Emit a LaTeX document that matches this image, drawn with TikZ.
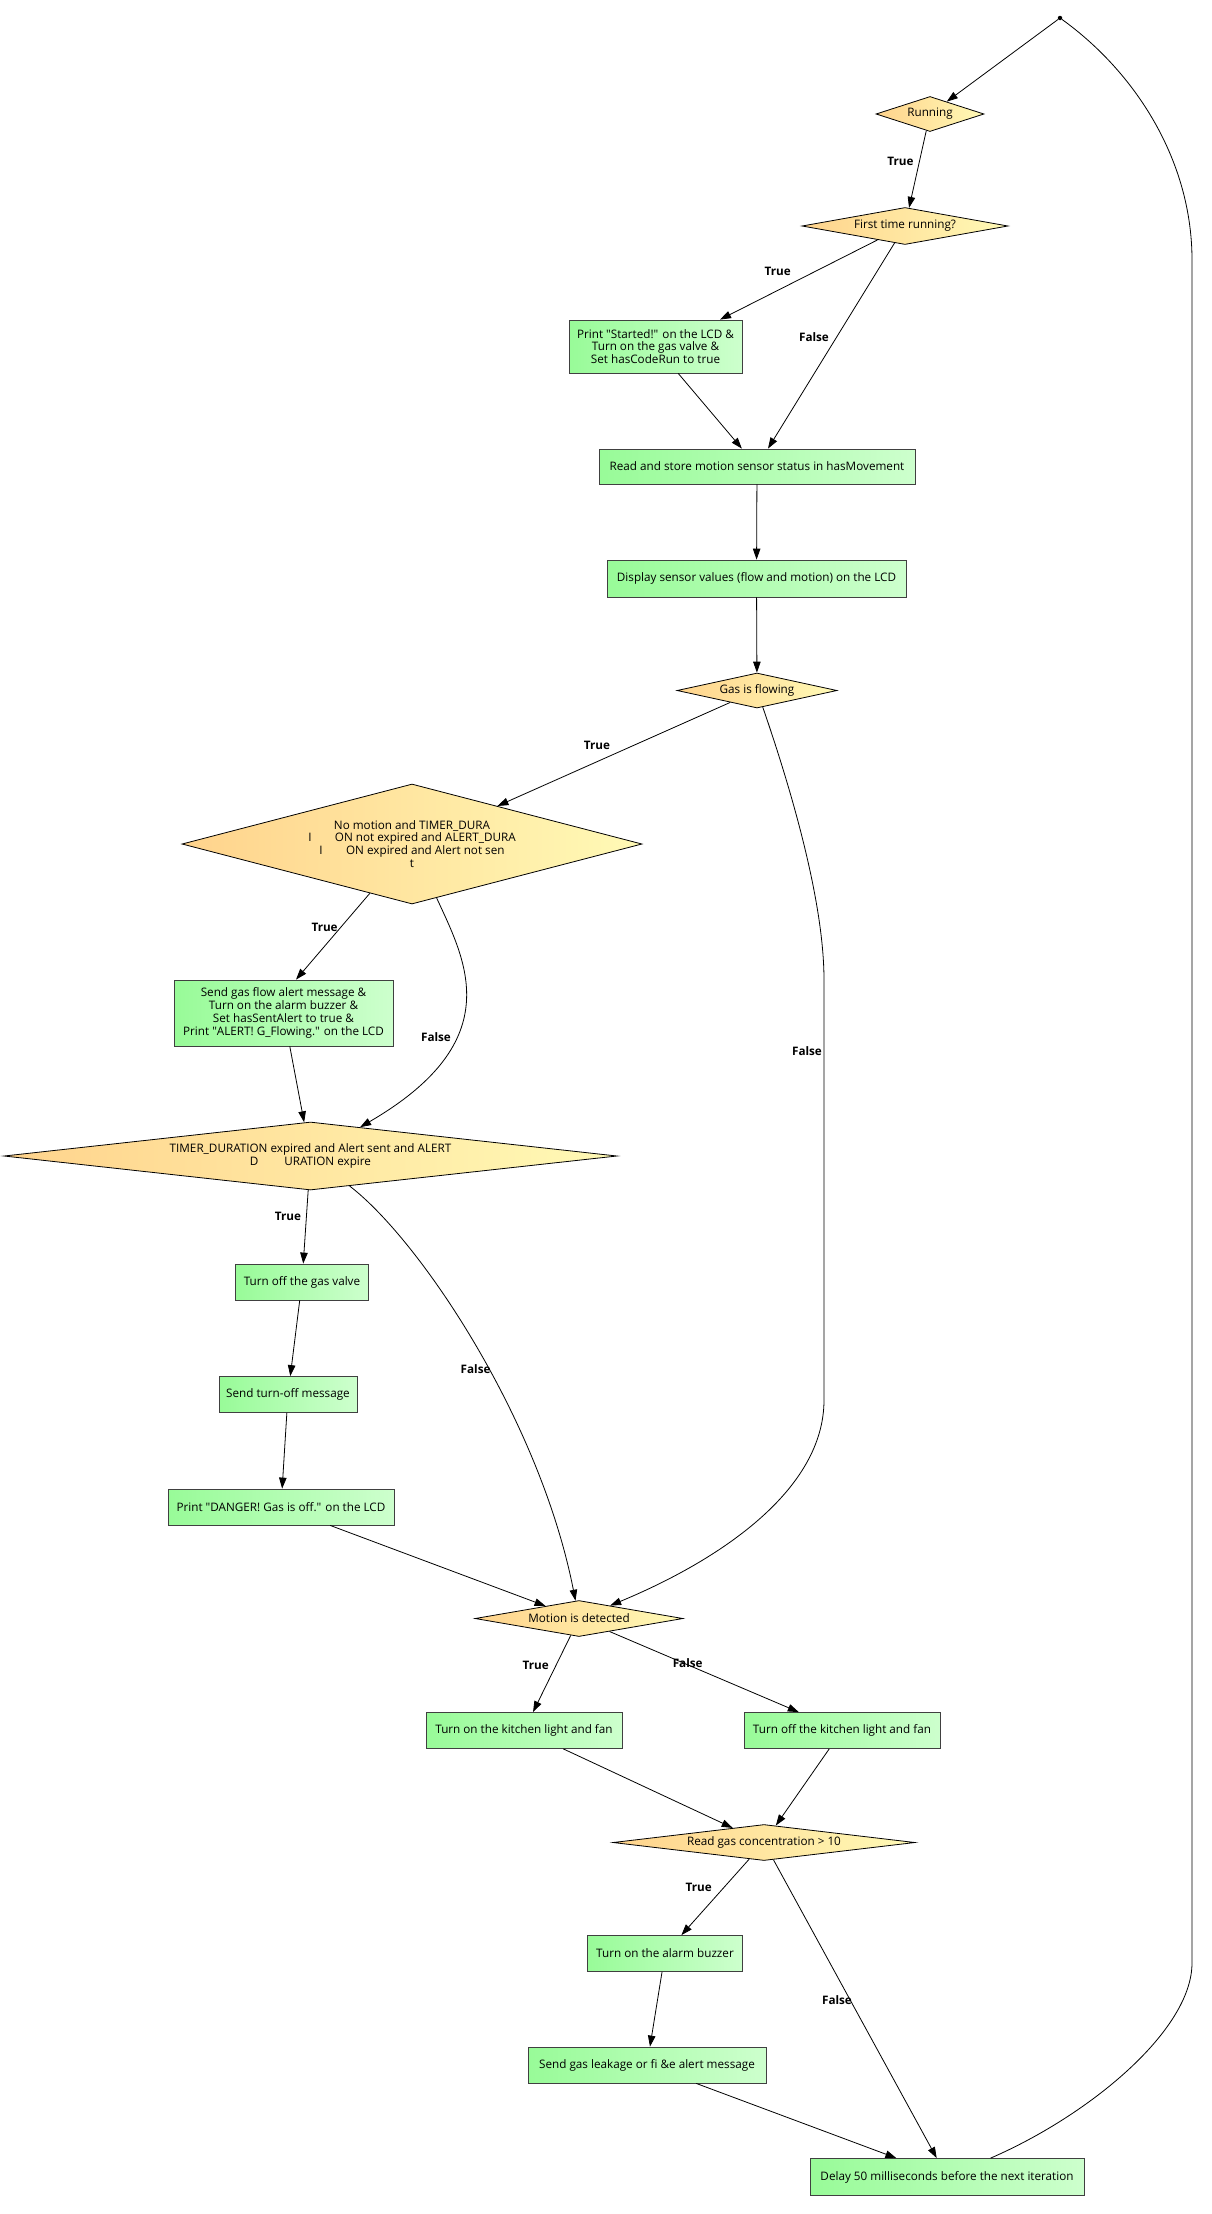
\documentclass[tikz,border=0pt]{standalone}
\usepackage{fontspec}
\setmainfont{Open Sans}
\usetikzlibrary{shapes.geometric,arrows.meta,calc}
\definecolor{gL}{RGB}{152,251,152}
\definecolor{gR}{RGB}{205,255,205}
\definecolor{yL}{RGB}{255,211,140}
\definecolor{yR}{RGB}{255,250,182}
\newcommand\myfs{\fontsize{11.7}{12.8}\selectfont}
\newcommand\qq{\textquotedbl{}}
\begin{document}
\begin{tikzpicture}[x=1pt,y=-1pt,
  box/.style={rectangle,draw=black!75,line width=0.8pt,left color=gL,right color=gR,inner sep=0pt,align=center,font=\myfs},
  dec/.style={diamond,draw=black,line width=0.8pt,left color=yL,right color=yR,inner sep=0pt,align=center,font=\myfs},
  arr/.style={-{Triangle[length=11pt,width=7.5pt]},line width=0.8pt},
  plainline/.style={line width=0.8pt},
  lab/.style={font=\myfs\bfseries},
  dot/.style={circle,fill=black,inner sep=0pt,minimum size=4.5pt}]
\useasboundingbox (0,0) rectangle (1211,2214);
\fill[white] (0,0) rectangle (1211,2214);

\node[dot] (start) at (1060,18) {};
\node[dec, minimum width=108pt, minimum height=35pt, shape aspect=3.1] (running) at (930,114) {Running};
\node[dec, minimum width=206pt, minimum height=37pt, shape aspect=5.6] (first) at (905,226) {First time running?};
\node[box, minimum width=173pt, minimum height=53pt] (started) at (655.5,346.5) {Print \qq Started!\qq{} on the LCD \&\\Turn on the gas valve \&\\Set hasCodeRun to true};
\node[box, minimum width=316pt, minimum height=35pt] (readstore) at (757,466.5) {Read and store motion sensor status in hasMovement};
\node[box, minimum width=299pt, minimum height=37pt] (display) at (756.5,578.5) {Display sensor values (flow and motion) on the LCD};
\node[dec, minimum width=160pt, minimum height=35pt, shape aspect=4.6] (gasflow) at (757,690.5) {Gas is flowing};
\node[dec, minimum width=460pt, minimum height=120pt, shape aspect=3.83] (nomotion) at (412,844) {No motion and TIMER\_DURA\\I\hspace{2em}ON not expired and ALERT\_DURA\\I\hspace{2em}ON expired and Alert not sen\\t};
\node[box, minimum width=219pt, minimum height=66pt] (sendalert) at (283.5,1013) {Send gas flow alert message \&\\Turn on the alarm buzzer \&\\Set hasSentAlert to true \&\\Print \qq ALERT! G\_Flowing.\qq{} on the LCD};
\node[dec, minimum width=613pt, minimum height=68pt, shape aspect=9] (timer) at (310.5,1156) {TIMER\_DURATION expired and Alert sent and ALERT\\D\hspace{2.2em}URATION expire};
\node[box, minimum width=133pt, minimum height=36pt] (valveoff) at (302,1282) {Turn off the gas valve};
\node[box, minimum width=138pt, minimum height=36pt] (sendoff) at (288,1394.5) {Send turn-off message};
\node[box, minimum width=226pt, minimum height=36pt] (danger) at (281,1507) {Print \qq DANGER! Gas is off.\qq{} on the LCD};
\node[dec, minimum width=208pt, minimum height=36pt, shape aspect=5.8] (motion) at (579,1618.5) {Motion is detected};
\node[box, minimum width=196pt, minimum height=36pt] (kitchenon) at (524,1730.5) {Turn on the kitchen light and fan};
\node[box, minimum width=196pt, minimum height=36pt] (kitchenoff) at (842,1730.5) {Turn off the kitchen light and fan};
\node[dec, minimum width=302pt, minimum height=36pt, shape aspect=8.4] (gasconc) at (764,1842.5) {Read gas concentration > 10};
\node[box, minimum width=155pt, minimum height=36pt] (alarm) at (665,1953.5) {Turn on the alarm buzzer};
\node[box, minimum width=238pt, minimum height=36pt] (leak) at (647,2065) {Send gas leakage or fi \&e alert message};
\node[box, minimum width=274pt, minimum height=37pt] (delay) at (947,2177) {Delay 50 milliseconds before the next iteration};

\draw[arr] (start) -- (running);
\draw[arr] (running) -- (first);
\draw[arr] (first) -- ($(started.north)+(64.5,0)$);
\draw[arr] (first) -- (readstore);
\draw[arr] (started) -- (readstore);
\draw[arr] (readstore) -- (display);
\draw[arr] (display) -- (gasflow);
\draw[arr] (gasflow) -- (nomotion);
\draw[arr] (gasflow) .. controls (790,786) and (824,900) .. (824,980) -- (824,1400) .. controls (824,1490) and (720,1560) .. (motion);
\draw[arr] (nomotion) -- ($(sendalert.north)+(12.5,0)$);
\draw[arr] (nomotion) .. controls (465,960) and (510,1040) .. (timer);
\draw[arr] (sendalert) -- (timer);
\draw[arr] (timer) -- (valveoff);
\draw[arr] (timer) .. controls (420,1240) and (540,1420) .. (motion);
\draw[arr] (valveoff) -- (sendoff);
\draw[arr] (sendoff) -- (danger);
\draw[arr] (danger) -- (motion);
\draw[arr] (motion) -- (kitchenon);
\draw[arr] (motion) -- (kitchenoff);
\draw[arr] (kitchenon) -- (gasconc);
\draw[arr] (kitchenoff) -- (gasconc);
\draw[arr] (gasconc) -- (alarm);
\draw[arr] (gasconc) -- (delay);
\draw[arr] (alarm) -- (leak);
\draw[arr] (leak) -- (delay);
\draw[plainline] (delay) .. controls (1090,2115) and (1192,2030) .. (1192,1963) -- (1192,260) .. controls (1192,160) and (1135,72) .. (start);

\node[lab] (l1) at (900.5,161) {True};
\node[lab] (l2) at (777.7,271) {True};
\node[lab] (l3) at (814,337) {False};
\node[lab] (l4) at (597,745) {True};
\node[lab] (l5) at (807,1051.5) {False};
\node[lab] (l6) at (324.6,927) {True};
\node[lab] (l7) at (436,1036.7) {False};
\node[lab] (l8) at (288,1216.6) {True};
\node[lab] (l9) at (475.6,1369) {False};
\node[lab] (l10) at (535.7,1665.7) {True};
\node[lab] (l11) at (687.7,1663) {False};
\node[lab] (l12) at (698.6,1887) {True};
\node[lab] (l13) at (837,2000) {False};
\end{tikzpicture}
\end{document}
